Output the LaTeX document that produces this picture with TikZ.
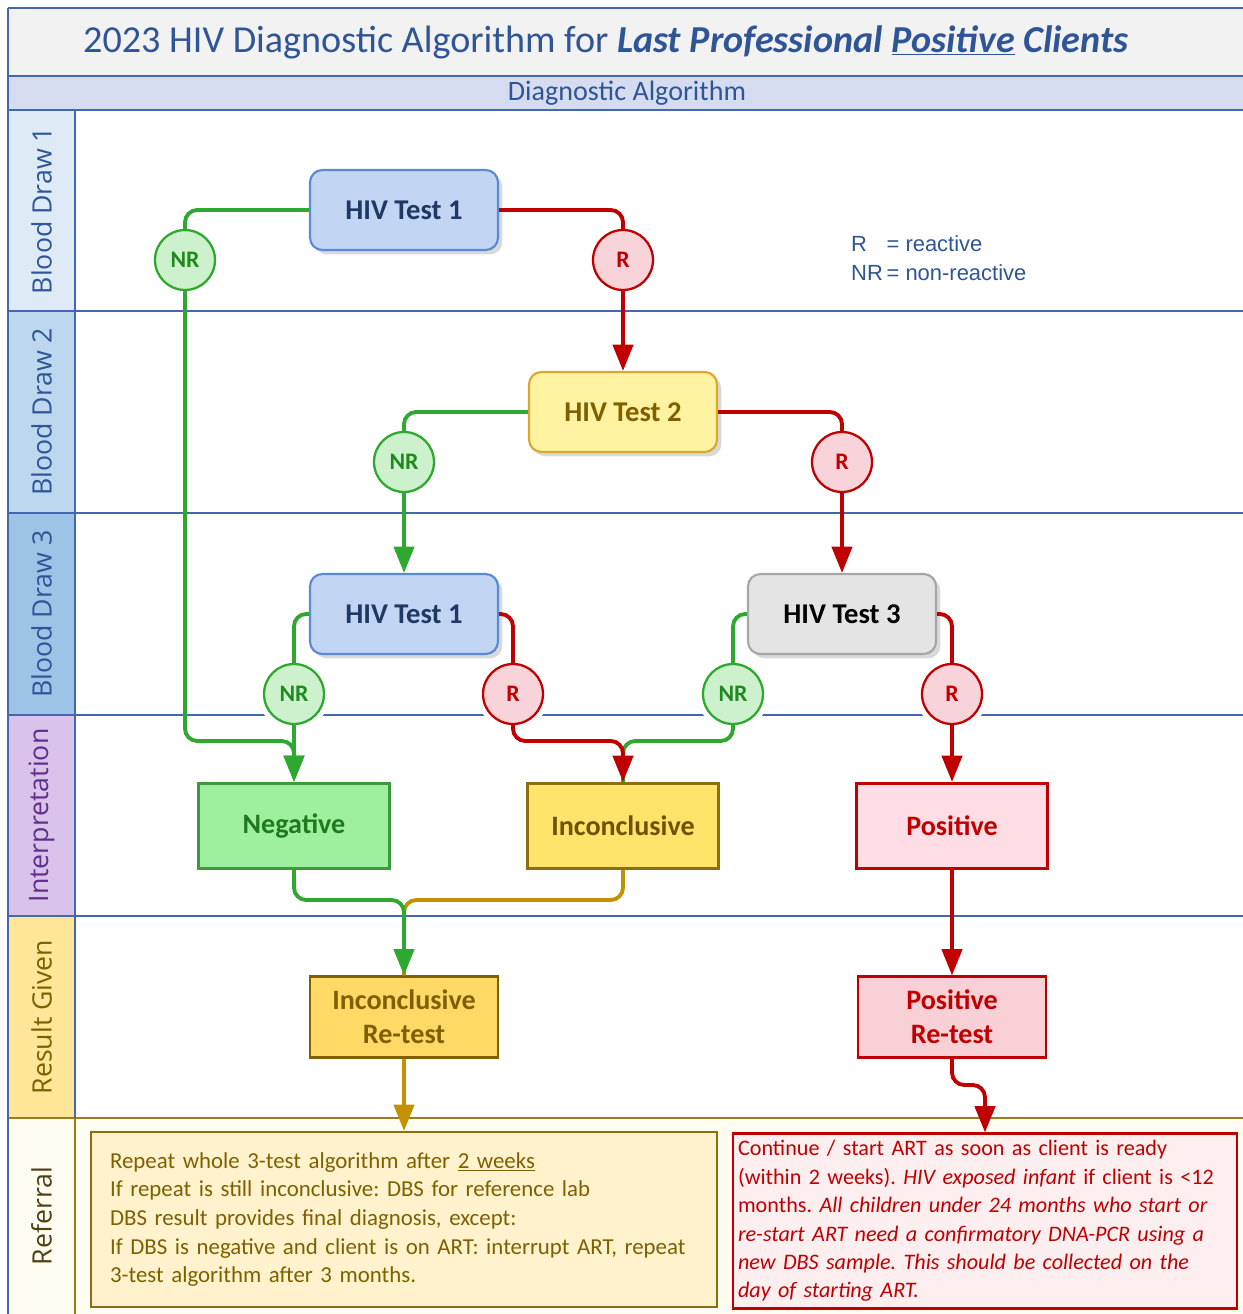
\documentclass[tikz,border=0pt]{standalone}
\usepackage{fontspec}
\setmainfont{Carlito}
\newfontfamily\lanefont{Open Sans}
\newfontfamily\legendfont{Liberation Sans}
\usetikzlibrary{arrows.meta,shadows}
\definecolor{frameblue}{RGB}{68,104,174}
\definecolor{titleblue}{RGB}{47,85,151}
\definecolor{titlegray}{RGB}{242,242,242}
\definecolor{subband}{RGB}{213,220,239}
\definecolor{laneone}{RGB}{222,235,247}
\definecolor{lanetwo}{RGB}{189,215,238}
\definecolor{lanethree}{RGB}{157,195,230}
\definecolor{laneinterp}{RGB}{217,195,235}
\definecolor{laneresult}{RGB}{255,230,153}
\definecolor{lanerefer}{RGB}{255,252,242}
\definecolor{interptext}{RGB}{96,46,140}
\definecolor{resulttext}{RGB}{127,96,0}
\definecolor{refertext}{RGB}{80,64,20}
\definecolor{referline}{RGB}{156,122,30}
\definecolor{linegreen}{RGB}{46,168,46}
\definecolor{nrfill}{RGB}{205,240,205}
\definecolor{nrtext}{RGB}{30,139,30}
\definecolor{linered}{RGB}{192,0,0}
\definecolor{rfill}{RGB}{248,211,217}
\definecolor{linegold}{RGB}{197,145,0}
\definecolor{testonefill}{RGB}{194,214,244}
\definecolor{testonedraw}{RGB}{90,138,214}
\definecolor{testonetext}{RGB}{31,56,100}
\definecolor{testtwofill}{RGB}{255,242,160}
\definecolor{testtwodraw}{RGB}{217,168,46}
\definecolor{testthreefill}{RGB}{228,228,228}
\definecolor{testthreedraw}{RGB}{166,166,166}
\definecolor{negfill}{RGB}{158,240,158}
\definecolor{negdraw}{RGB}{60,154,60}
\definecolor{negtext}{RGB}{31,122,31}
\definecolor{incfill}{RGB}{255,227,106}
\definecolor{incdraw}{RGB}{140,109,16}
\definecolor{inctext}{RGB}{110,82,0}
\definecolor{posfill}{RGB}{255,221,228}
\definecolor{retestgold}{RGB}{255,217,102}
\definecolor{retestpink}{RGB}{248,208,214}
\definecolor{notegold}{RGB}{255,242,204}
\definecolor{notepink}{RGB}{253,238,240}
\tikzset{
  lanetitle/.style={rotate=90, font=\lanefont\fontsize{15.2}{18}\selectfont},
  laneline/.style={frameblue, line width=0.8pt},
  testbox/.style={rounded corners=7pt, draw, line width=1.2pt, minimum width=3.76cm, minimum height=1.6cm,
    font=\bfseries\fontsize{16.3}{19}\selectfont, drop shadow={opacity=0.3, shadow xshift=2.5pt, shadow yshift=-2.5pt}},
  resultbox/.style={draw, line width=1.8pt, minimum width=3.82cm, minimum height=1.7cm,
    font=\bfseries\fontsize{16}{19.3}\selectfont, align=center},
  retestbox/.style={resultbox, line width=1.2pt, minimum width=3.76cm, minimum height=1.62cm},
  nrdot/.style={circle, draw=linegreen, fill=nrfill, text=nrtext, line width=1.3pt, minimum size=1.2cm,
    inner sep=0pt, font=\bfseries\fontsize{13.5}{15}\selectfont, preaction={draw=white, line width=7pt}},
  rdot/.style={nrdot, draw=linered, fill=rfill, text=linered},
  goflow/.style={line width=2.2pt, rounded corners=7pt},
  flowtip/.style={-{Triangle[length=15pt,width=11.5pt]}},
  notebox/.style={draw, line width=1.2pt, align=left}
}
\begin{document}
\frenchspacing
\begin{tikzpicture}[x=0.02cm,y=-0.02cm]
  \useasboundingbox (0,0) rectangle (1243,1314);

  % header bands
  \fill[titlegray] (8,8) rectangle (1243,76);
  \fill[subband] (8,76) rectangle (1243,110);
  \node (title) at (606,42) {\fontsize{21.7}{26}\selectfont\color{titleblue}2023 HIV Diagnostic Algorithm for
    \textbf{\textit{Last Professional \underline{Positive} Clients}}};
  \node[text=titleblue, font=\fontsize{16}{19}\selectfont] (subtitle) at (627,93) {Diagnostic Algorithm};

  % lanes
  \fill[lanerefer] (8,1118) rectangle (1243,1314);
  \foreach \i/\top/\bot/\col/\txt/\tcol in {1/110/311/laneone/Blood Draw 1/titleblue,
      2/311/513/lanetwo/Blood Draw 2/titleblue, 3/513/715/lanethree/Blood Draw 3/titleblue,
      4/715/916/laneinterp/Interpretation/interptext, 5/916/1118/laneresult/Result Given/resulttext,
      6/1118/1314/lanerefer/Referral/refertext}{
    \fill[\col] (8,\top) rectangle (75,\bot);
    \node[lanetitle, text=\tcol] (lane\i) at (41.5,{(\top+\bot)/2}) {\txt};
  }
  \foreach \y in {76,110,311,513,715,916}
    \draw[laneline] (8,\y) -- (1243,\y);
  \draw[laneline] (8,8) -- (1243,8);
  \draw[referline, line width=0.8pt] (8,1118) -- (1243,1118);
  \draw[laneline] (8,8) -- (8,1314);
  \draw[laneline] (75,110) -- (75,1118);
  \draw[referline, line width=0.8pt] (75,1118) -- (75,1314);

  % legend
  \node[anchor=west, text=titleblue, font=\legendfont\fontsize{12.5}{16.4}\selectfont] (legend) at (845,260)
    {\begin{tabular}{@{}l@{\,}l@{}}R & = reactive\\ NR & = non-reactive\end{tabular}};

  % tests
  \node[testbox, draw=testonedraw, fill=testonefill, text=testonetext] (t1a) at (404,210) {HIV Test 1};
  \node[testbox, draw=testtwodraw, fill=testtwofill, text=resulttext] (t2) at (623,412) {HIV Test 2};
  \node[testbox, draw=testonedraw, fill=testonefill, text=testonetext] (t1b) at (404,614) {HIV Test 1};
  \node[testbox, draw=testthreedraw, fill=testthreefill, text=black] (t3) at (842,614) {HIV Test 3};

  % outcomes
  \node[nrdot] (nr1) at (185,260) {NR};
  \node[rdot] (r1) at (623,260) {R};
  \node[nrdot] (nr2) at (404,462) {NR};
  \node[rdot] (r2) at (842,462) {R};
  \node[nrdot] (nr3a) at (294,694) {NR};
  \node[rdot] (r3a) at (513,694) {R};
  \node[nrdot] (nr3b) at (733,694) {NR};
  \node[rdot] (r3b) at (952,694) {R};

  % interpretation and result
  \node[resultbox, draw=negdraw, fill=negfill, text=negtext] (neg) at (294,826) {Negative};
  \node[resultbox, draw=incdraw, fill=incfill, text=inctext] (inc) at (623,826) {Inconclusive};
  \node[resultbox, draw=linered, fill=posfill, text=linered] (pos) at (952,826) {Positive};
  \node[retestbox, draw=resulttext, fill=retestgold, text=resulttext] (incret) at (404,1017) {Inconclusive\\Re-test};
  \node[retestbox, draw=linered, fill=retestpink, text=linered] (posret) at (952,1017) {Positive\\Re-test};

  % referral notes
  \node[notebox, draw=incdraw, fill=notegold, text=resulttext, minimum width=12.52cm, minimum height=3.5cm,
    inner xsep=0.38cm, text width=11.76cm, font=\fontsize{13}{16.3}\selectfont] (refinc) at (404,1219.5)
    {Repeat whole 3-test algorithm after \underline{2 weeks}\\
     If repeat is still inconclusive: DBS for reference lab\\
     DBS result provides final diagnosis, except:\\
     If DBS is negative and client is on ART: interrupt ART, repeat\\
     3-test algorithm after 3 months.};
  \node[notebox, draw=linered, fill=notepink, text=linered, minimum width=10.08cm, minimum height=3.5cm,
    inner xsep=0.1cm, inner ysep=0pt, text width=9.88cm, font=\fontsize{12.6}{16.2}\selectfont] (refpos) at (985,1221)
    {Continue / start ART as soon as client is ready\\
     (within 2 weeks). \textit{HIV exposed infant} if client is <12\\
     months. \textit{All children under 24 months who start or}\\
     \textit{re-start ART need a confirmatory DNA-PCR using a}\\
     \textit{new DBS sample. This should be collected on the}\\
     \textit{day of starting ART.}};

  % join points
  \coordinate (negjoin) at (294,741);
  \coordinate (incjoin) at (623,741);
  \coordinate (retjoin) at (404,900);
  \coordinate (poskink) at (985,1085);

  % connectors
  \draw[goflow, linegreen] (t1a) -| (nr1);
  \draw[goflow, linegreen, flowtip] (nr1) |- (negjoin) -- (neg);
  \draw[goflow, linered] (t1a) -| (r1);
  \draw[goflow, linered, flowtip] (r1) -- (t2);
  \draw[goflow, linegreen] (t2) -| (nr2);
  \draw[goflow, linegreen, flowtip] (nr2) -- (t1b);
  \draw[goflow, linered] (t2) -| (r2);
  \draw[goflow, linered, flowtip] (r2) -- (t3);
  \draw[goflow, linegreen] (t1b) -| (nr3a);
  \draw[goflow, linegreen, flowtip] (nr3a) -- (neg);
  \draw[goflow, linered] (t1b) -| (r3a);
  \draw[goflow, linegreen] (t3) -| (nr3b);
  \draw[goflow, linegreen] (nr3b) |- (incjoin) -- (inc);
  \draw[goflow, linered, flowtip] (r3a) |- (incjoin) -- (inc);
  \draw[goflow, linered] (t3) -| (r3b);
  \draw[goflow, linered, flowtip] (r3b) -- (pos);
  \draw[goflow, linegold] (inc) |- (retjoin) -- (incret);
  \draw[goflow, linegreen, flowtip] (neg) |- (retjoin) -- (incret);
  \draw[goflow, linered, flowtip] (pos) -- (posret);
  \draw[goflow, linegold, flowtip] (incret) -- (refinc);
  \draw[goflow, linered, flowtip] (posret) |- (poskink) -- (refpos);
\end{tikzpicture}
\end{document}
